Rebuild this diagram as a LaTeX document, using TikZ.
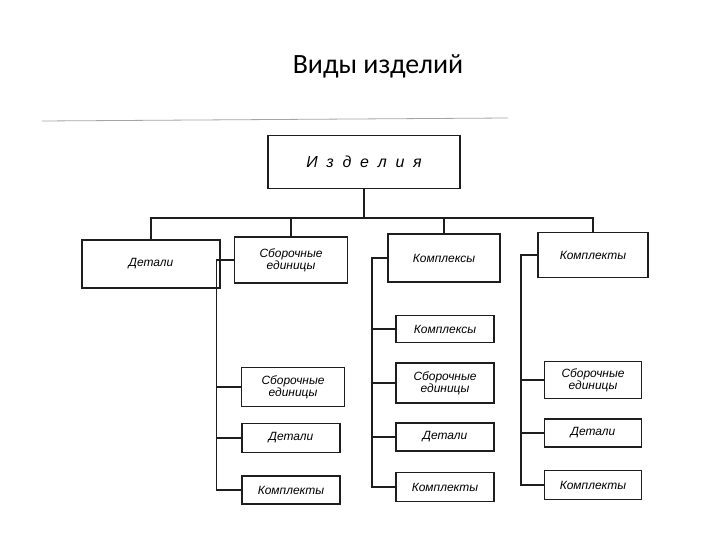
\documentclass[tikz,border=0pt]{standalone}
\usepackage{fontspec}
\setmainfont{Carlito}
\newfontfamily\boxfont{Liberation Sans}
\usepackage{tikz}
\usetikzlibrary{positioning, calc}
\definecolor{inkBlack}{RGB}{30,30,30}
\definecolor{ruleGray}{RGB}{165,165,165}

\tikzset{
  box/.style={draw=inkBlack, line width=1.6bp, fill=white, align=center,
    inner sep=1bp, font=\boxfont\fontsize{12}{12}\selectfont\itshape},
  link/.style={draw=inkBlack, line width=1.5bp},
}

\begin{document}
\begin{tikzpicture}[x=1bp, y=-1bp]
				\useasboundingbox (0,0) rectangle (720,540);
				\node[font=\fontsize{28}{28}\selectfont] (title) at (378,66) {Виды изделий};
				\draw[ruleGray, line width=0.8bp] (42,121) -- (508,118);
				% top
				\node[box, minimum width=192bp, minimum height=53bp,
				  font=\boxfont\fontsize{16}{16}\selectfont\itshape] (izd) at (364,162) {\spaceskip=0.55em\relax И з д е л и я};
				% first level
				\node[box, minimum width=138bp, minimum height=48bp] (det) at (151,264) {Детали};
				\node[box, minimum width=113bp, minimum height=46bp] (sbor) at (291,260) {Сборочные\\единицы};
				\node[box, minimum width=112bp, minimum height=48bp] (kpx) at (444,258) {Комплексы};
				\node[box, minimum width=110bp, minimum height=45bp] (kpt) at (593,255) {Комплекты};
				\coordinate (bus) at (364,218);
				\draw[link] (izd.south) -- (bus);
				\draw[link] (det.north) |- (bus) -| (kpt.north);
				\draw[link] (sbor.north) -- (sbor.north |- bus);
				\draw[link] (kpx.north) -- (kpx.north |- bus);
				% column 2
				\node[box, minimum width=103bp, minimum height=39bp] (sbor1) at (293,387) {Сборочные\\единицы};
				\node[box, minimum width=98bp, minimum height=29bp] (sbor2) at (291,438) {Детали};
				\node[box, minimum width=98bp, minimum height=28bp] (sbor3) at (291,490) {Комплекты};
				\draw[link] (sbor.west) -- ++(-17,0) coordinate (sborx) |- (sbor3.west);
				\draw[link] (sbor1.west) -- (sborx |- sbor1.west);
				\draw[link] (sbor2.west) -- (sborx |- sbor2.west);
				% column 3
				\node[box, minimum width=98bp, minimum height=27bp] (kpx1) at (445,329) {Комплексы};
				\node[box, minimum width=98bp, minimum height=40bp] (kpx2) at (445,383) {Сборочные\\единицы};
				\node[box, minimum width=98bp, minimum height=28bp] (kpx3) at (445,437) {Детали};
				\node[box, minimum width=98bp, minimum height=29bp] (kpx4) at (445,487) {Комплекты};
				\draw[link] (kpx.west) -- ++(-15,0) coordinate (kpxx) |- (kpx4.west);
				\draw[link] (kpx1.west) -- (kpxx |- kpx1.west);
				\draw[link] (kpx2.west) -- (kpxx |- kpx2.west);
				\draw[link] (kpx3.west) -- (kpxx |- kpx3.west);
				% column 4
				\node[box, minimum width=97bp, minimum height=37bp] (kpt1) at (593,380) {Сборочные\\единицы};
				\node[box, minimum width=97bp, minimum height=28bp] (kpt2) at (593,433) {Детали};
				\node[box, minimum width=97bp, minimum height=29bp] (kpt3) at (593,485) {Комплекты};
				\draw[link] (kpt.west) -- ++(-16,0) coordinate (kptx) |- (kpt3.west);
				\draw[link] (kpt1.west) -- (kptx |- kpt1.west);
				\draw[link] (kpt2.west) -- (kptx |- kpt2.west);
\end{tikzpicture}
\end{document}
